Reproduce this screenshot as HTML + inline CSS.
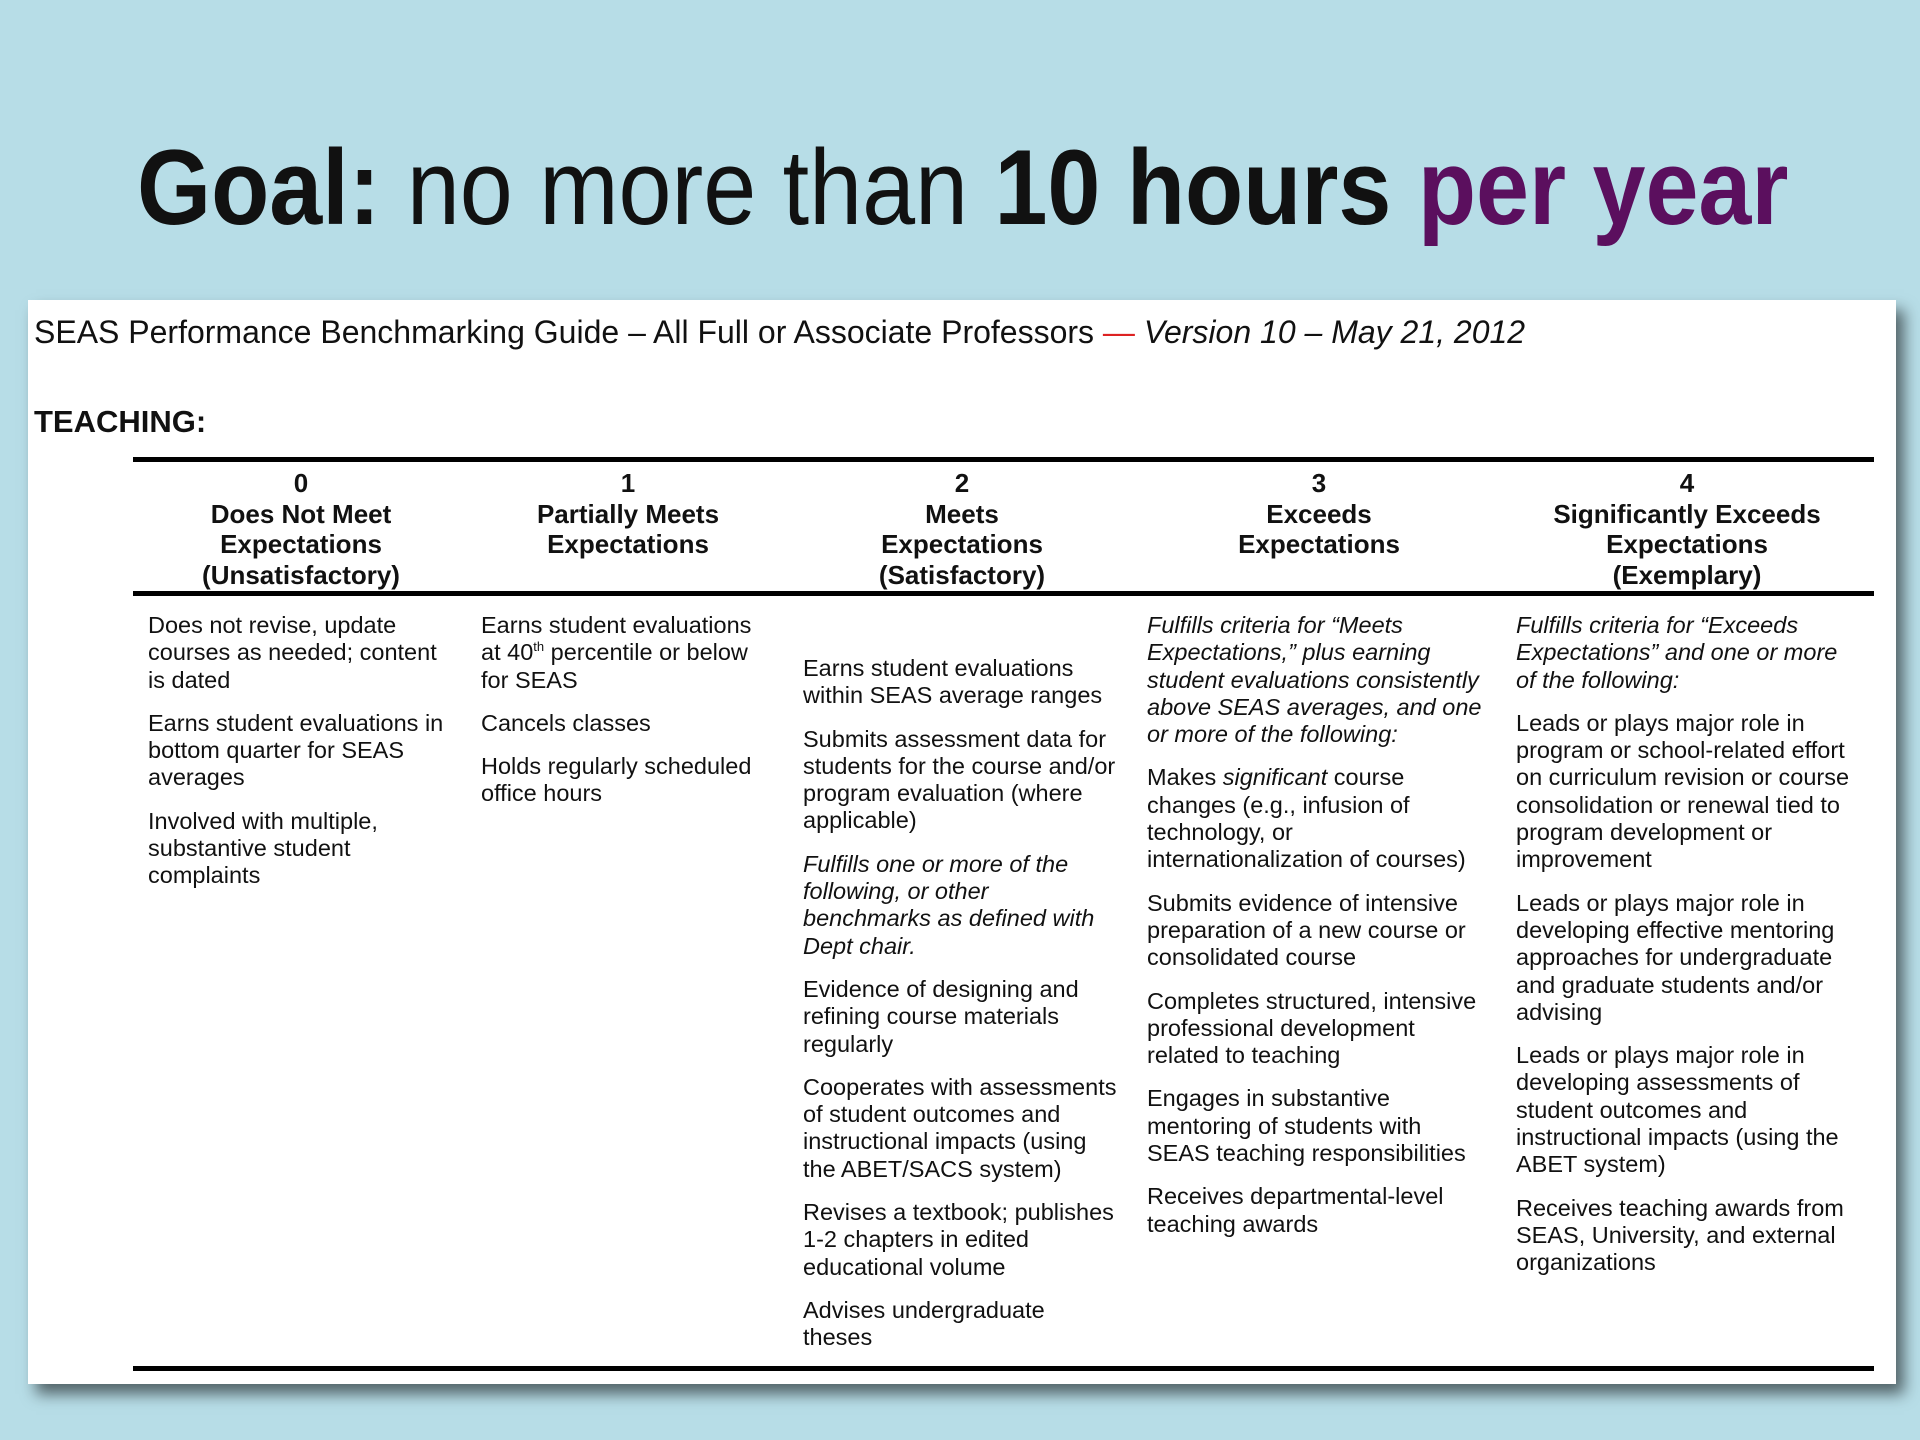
<!DOCTYPE html>
<html><head><meta charset="utf-8"><style>
html,body{margin:0;padding:0}
body{width:1920px;height:1440px;background:#b7dde7;position:relative;overflow:hidden;font-family:"Liberation Sans",Arial,sans-serif}
#title{position:absolute;left:137px;top:134px;font-size:107px;line-height:1;white-space:nowrap;transform:scaleX(0.89);transform-origin:left top;color:#111}
#title b{font-weight:bold}
#title .p{color:#5b0f5e;font-weight:bold}
#panel{position:absolute;left:28px;top:300px;width:1868px;height:1084px;background:#fff;box-shadow:8px 10px 14px rgba(0,0,0,0.55)}
#doc-head{position:absolute;left:6px;top:14px;font-size:32px;white-space:nowrap;color:#111}
#doc-head .r{color:#d22}
#teach{position:absolute;left:6px;top:104px;font-size:31px;font-weight:bold;color:#111}
.hl{position:absolute;left:105px;width:1741px;height:5px;background:#000}
.hc{position:absolute;top:168px;font-size:26px;font-weight:bold;line-height:30.7px;text-align:center;white-space:nowrap;transform:translateX(-50%);color:#111}
.col{position:absolute;font-size:23.5px;line-height:27.3px;white-space:nowrap;color:#111}
.col p{margin:0 0 16px 0}
sup{font-size:13px;line-height:0}
</style></head><body>
<div id="title"><b>Goal:</b> no more than <b>10 hours</b> <span class="p">per year</span></div>
<div id="panel">
<div id="doc-head">SEAS Performance Benchmarking Guide – All Full or Associate Professors <span class="r">—</span> <i>Version 10 – May 21, 2012</i></div>
<div id="teach">TEACHING:</div>
<div class="hl" style="top:157px"></div>
<div class="hl" style="top:291px"></div>
<div class="hl" style="top:1066px"></div>
<div class="hc" style="left:273px">0<br>Does Not Meet<br>Expectations<br>(Unsatisfactory)</div>
<div class="hc" style="left:600px">1<br>Partially Meets<br>Expectations</div>
<div class="hc" style="left:934px">2<br>Meets<br>Expectations<br>(Satisfactory)</div>
<div class="hc" style="left:1291px">3<br>Exceeds<br>Expectations</div>
<div class="hc" style="left:1659px">4<br>Significantly Exceeds<br>Expectations<br>(Exemplary)</div>

<div class="col" style="left:120px;top:312px">
<p>Does not revise, update<br>courses as needed; content<br>is dated</p>
<p>Earns student evaluations in<br>bottom quarter for SEAS<br>averages</p>
<p>Involved with multiple,<br>substantive student<br>complaints</p>
</div>
<div class="col" style="left:453px;top:312px">
<p>Earns student evaluations<br>at 40<sup>th</sup> percentile or below<br>for SEAS</p>
<p>Cancels classes</p>
<p>Holds regularly scheduled<br>office hours</p>
</div>
<div class="col" style="left:775px;top:355px">
<p>Earns student evaluations<br>within SEAS average ranges</p>
<p>Submits assessment data for<br>students for the course and/or<br>program evaluation (where<br>applicable)</p>
<p><i>Fulfills one or more of the<br>following, or other<br>benchmarks as defined with<br>Dept chair.</i></p>
<p>Evidence of designing and<br>refining course materials<br>regularly</p>
<p>Cooperates with assessments<br>of student outcomes and<br>instructional impacts (using<br>the ABET/SACS system)</p>
<p>Revises a textbook; publishes<br>1-2 chapters in edited<br>educational volume</p>
<p>Advises undergraduate<br>theses</p>
</div>
<div class="col" style="left:1119px;top:312px">
<p><i>Fulfills criteria for “Meets<br>Expectations,” plus earning<br>student evaluations consistently<br>above SEAS averages, and one<br>or more of the following:</i></p>
<p>Makes <i>significant</i> course<br>changes (e.g., infusion of<br>technology, or<br>internationalization of courses)</p>
<p>Submits evidence of intensive<br>preparation of a new course or<br>consolidated course</p>
<p>Completes structured, intensive<br>professional development<br>related to teaching</p>
<p>Engages in substantive<br>mentoring of students with<br>SEAS teaching responsibilities</p>
<p>Receives departmental-level<br>teaching awards</p>
</div>
<div class="col" style="left:1488px;top:312px">
<p><i>Fulfills criteria for “Exceeds<br>Expectations” and one or more<br>of the following:</i></p>
<p>Leads or plays major role in<br>program or school-related effort<br>on curriculum revision or course<br>consolidation or renewal tied to<br>program development or<br>improvement</p>
<p>Leads or plays major role in<br>developing effective mentoring<br>approaches for undergraduate<br>and graduate students and/or<br>advising</p>
<p>Leads or plays major role in<br>developing assessments of<br>student outcomes and<br>instructional impacts (using the<br>ABET system)</p>
<p>Receives teaching awards from<br>SEAS, University, and external<br>organizations</p>
</div>
</div>
</body></html>
